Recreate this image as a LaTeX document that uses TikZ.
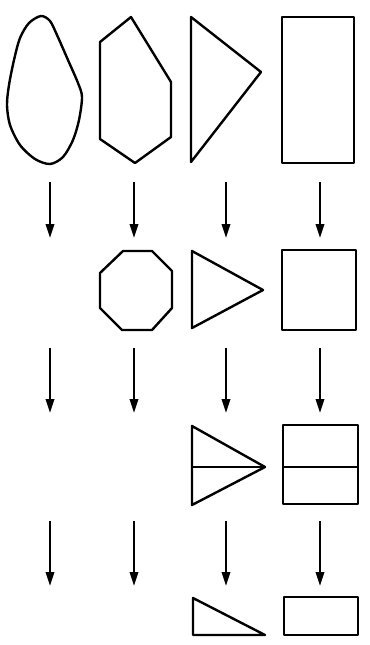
\documentclass[tikz,border=0pt]{standalone}
\usepackage{tikz}
\usetikzlibrary{arrows.meta}

\begin{document}
\begin{tikzpicture}[
  x=0.5pt, y=-0.5pt,
  outline/.style={line width=1.2pt, line join=round},
  arrow/.style={-{Triangle[length=7pt, width=4.2pt]}, line width=1.1pt}
]
\useasboundingbox (0,0) rectangle (370,645);

% first row
\draw[outline] plot[smooth cycle, tension=0.5] coordinates {(41,16) (29,23) (20,38) (14,60) (9,85) (7,105) (10,125) (20,145) (35,159) (50,164) (63,157) (73,140) (79,120) (82,97) (78,83) (68,60) (57,35) (50,21)};
\draw[outline] (100,42) -- (131,17) -- (171,82) -- (171,137) -- (135,163) -- (100,139) -- cycle;
\draw[outline] (191,17) -- (261,72) -- (191,162) -- cycle;
\draw[outline] (282,17) rectangle (354,163);

% second row
\draw[outline] (123,251) -- (152,251) -- (172,271) -- (172,308) -- (152,330) -- (122,330) -- (100,308) -- (100,273) -- cycle;
\draw[outline] (192,251) -- (263,290) -- (192,328) -- cycle;
\draw[outline] (282,250) rectangle (356,330);

% third row
\draw[outline] (192,426) -- (265,467) -- (192,505) -- cycle;
\draw[outline] (192,467) -- (265,467);
\draw[outline] (283,425) rectangle (358,504);
\draw[outline] (283,467) -- (358,467);

% fourth row
\draw[outline] (193,598) -- (265,635) -- (193,635) -- cycle;
\draw[outline] (284,597) rectangle (358,635);

% arrows
\foreach \col/\x in {a/50,b/134,c/226,d/320} {
  \coordinate (\col1) at (\x,182);
  \coordinate (\col2) at (\x,238);
  \coordinate (\col3) at (\x,348);
  \coordinate (\col4) at (\x,413);
  \coordinate (\col5) at (\x,521);
  \coordinate (\col6) at (\x,586);
  \draw[arrow] (\col1) -- (\col2);
  \draw[arrow] (\col3) -- (\col4);
  \draw[arrow] (\col5) -- (\col6);
}
\end{tikzpicture}
\end{document}
